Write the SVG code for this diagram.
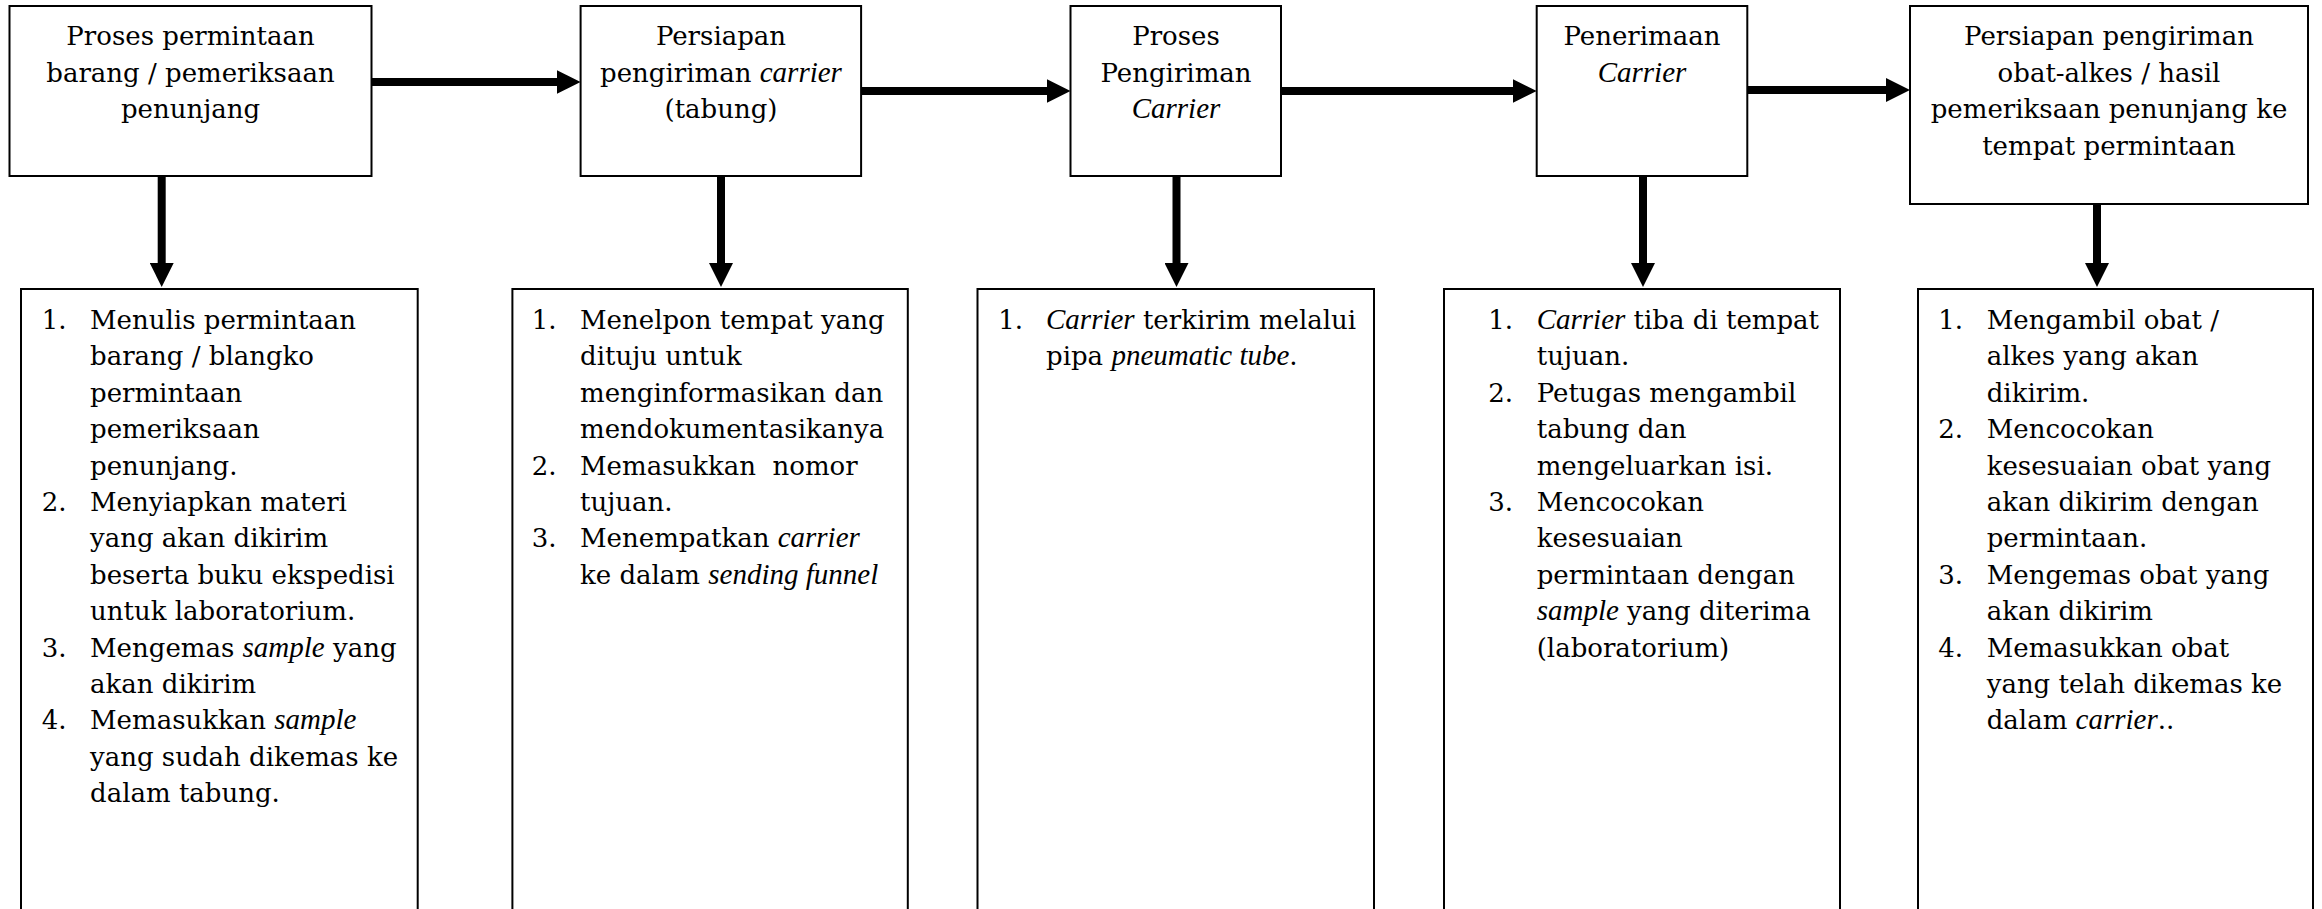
<svg xmlns="http://www.w3.org/2000/svg" width="2322" height="909" viewBox="0 0 2322 909">
<style>
.box{fill:#fff;stroke:#000;stroke-width:2}
.t{font-family:"DejaVu Serif","Liberation Serif",serif;font-size:26px;fill:#000}
.c{text-anchor:middle}
.i{font-family:"Liberation Serif","DejaVu Serif",serif;font-style:italic;font-size:29px}
.con{fill:none;stroke:#000;stroke-width:8;marker-end:url(#ah)}
</style>
<defs>
<marker id="ah" markerUnits="userSpaceOnUse" markerWidth="24" markerHeight="24" viewBox="0 0 24 24" refX="12" refY="12" orient="auto"><path d="M0,0 L24,12 L0,24 Z" fill="#000"/></marker>
</defs>
<rect width="2322" height="909" fill="#fff"/>
<g id="connectors">
<path class="con" d="M371.5,82 H568.6"/>
<path class="con" d="M861,91 H1058.5"/>
<path class="con" d="M1281,91 H1524.7"/>
<path class="con" d="M1747.3,90 H1898"/>
<path class="con" d="M161.7,176 V275"/>
<path class="con" d="M721,176 V275"/>
<path class="con" d="M1176.5,176 V275"/>
<path class="con" d="M1643,176 V275"/>
<path class="con" d="M2097,204 V275"/>
</g>
<g id="n1">
<rect class="box" x="9.5" y="6" width="362" height="170"/>
<text class="t c" x="190.5" y="45">Proses permintaan</text>
<text class="t c" x="190.5" y="81.5">barang / pemeriksaan</text>
<text class="t c" x="190.5" y="118">penunjang</text>
</g>
<g id="n2">
<rect class="box" x="580.6" y="6" width="280.5" height="170"/>
<text class="t c" x="721" y="45">Persiapan</text>
<text class="t c" x="721" y="81.5">pengiriman <tspan class="i">carrier</tspan></text>
<text class="t c" x="721" y="118">(tabung)</text>
</g>
<g id="n3">
<rect class="box" x="1070.5" y="6" width="210.5" height="170"/>
<text class="t c" x="1176" y="45">Proses</text>
<text class="t c" x="1176" y="81.5">Pengiriman</text>
<text class="t c i" x="1176" y="118">Carrier</text>
</g>
<g id="n4">
<rect class="box" x="1536.7" y="6" width="210.6" height="170"/>
<text class="t c" x="1642" y="45">Penerimaan</text>
<text class="t c i" x="1642" y="81.5">Carrier</text>
</g>
<g id="n5">
<rect class="box" x="1910" y="6" width="398" height="198"/>
<text class="t c" x="2109" y="45">Persiapan pengiriman</text>
<text class="t c" x="2109" y="81.5">obat-alkes / hasil</text>
<text class="t c" x="2109" y="118">pemeriksaan penunjang ke</text>
<text class="t c" x="2109" y="154.5">tempat permintaan</text>
</g>
<g id="b1">
<rect class="box" x="21" y="289" width="396.7" height="640"/>
<text class="t" x="41.7" y="329">1.</text>
<text class="t" x="90" y="329">Menulis permintaan</text>
<text class="t" x="90" y="365.4">barang / blangko</text>
<text class="t" x="90" y="401.8">permintaan</text>
<text class="t" x="90" y="438.2">pemeriksaan</text>
<text class="t" x="90" y="474.6">penunjang.</text>
<text class="t" x="41.7" y="511">2.</text>
<text class="t" x="90" y="511">Menyiapkan materi</text>
<text class="t" x="90" y="547.4">yang akan dikirim</text>
<text class="t" x="90" y="583.8">beserta buku ekspedisi</text>
<text class="t" x="90" y="620.2">untuk laboratorium.</text>
<text class="t" x="41.7" y="656.6">3.</text>
<text class="t" x="90" y="656.6">Mengemas <tspan class="i">sample</tspan> yang</text>
<text class="t" x="90" y="693">akan dikirim</text>
<text class="t" x="41.7" y="729.4">4.</text>
<text class="t" x="90" y="729.4">Memasukkan <tspan class="i">sample</tspan></text>
<text class="t" x="90" y="765.8">yang sudah dikemas ke</text>
<text class="t" x="90" y="802.2">dalam tabung.</text>
</g>
<g id="b2">
<rect class="box" x="512.4" y="289" width="395.4" height="640"/>
<text class="t" x="531.7" y="329">1.</text>
<text class="t" x="580" y="329">Menelpon tempat yang</text>
<text class="t" x="580" y="365.4">dituju untuk</text>
<text class="t" x="580" y="401.8">menginformasikan dan</text>
<text class="t" x="580" y="438.2">mendokumentasikanya</text>
<text class="t" x="531.7" y="474.6">2.</text>
<text class="t" x="580" y="474.6" xml:space="preserve">Memasukkan  nomor</text>
<text class="t" x="580" y="511">tujuan.</text>
<text class="t" x="531.7" y="547.4">3.</text>
<text class="t" x="580" y="547.4">Menempatkan <tspan class="i">carrier</tspan></text>
<text class="t" x="580" y="583.8">ke dalam <tspan class="i">sending funnel</tspan></text>
</g>
<g id="b3">
<rect class="box" x="977.5" y="289" width="396.5" height="640"/>
<text class="t" x="998.3" y="329">1.</text>
<text class="t" x="1046" y="329"><tspan class="i">Carrier</tspan> terkirim melalui</text>
<text class="t" x="1046" y="365.4">pipa <tspan class="i">pneumatic tube</tspan>.</text>
</g>
<g id="b4">
<rect class="box" x="1444" y="289" width="396" height="640"/>
<text class="t" x="1488.3" y="329">1.</text>
<text class="t" x="1536.7" y="329"><tspan class="i">Carrier</tspan> tiba di tempat</text>
<text class="t" x="1536.7" y="365.4">tujuan.</text>
<text class="t" x="1488.3" y="401.8">2.</text>
<text class="t" x="1536.7" y="401.8">Petugas mengambil</text>
<text class="t" x="1536.7" y="438.2">tabung dan</text>
<text class="t" x="1536.7" y="474.6">mengeluarkan isi.</text>
<text class="t" x="1488.3" y="511">3.</text>
<text class="t" x="1536.7" y="511">Mencocokan</text>
<text class="t" x="1536.7" y="547.4">kesesuaian</text>
<text class="t" x="1536.7" y="583.8">permintaan dengan</text>
<text class="t" x="1536.7" y="620.2"><tspan class="i">sample</tspan> yang diterima</text>
<text class="t" x="1536.7" y="656.6">(laboratorium)</text>
</g>
<g id="b5">
<rect class="box" x="1918" y="289" width="395" height="640"/>
<text class="t" x="1938.3" y="329">1.</text>
<text class="t" x="1986.7" y="329">Mengambil obat /</text>
<text class="t" x="1986.7" y="365.4">alkes yang akan</text>
<text class="t" x="1986.7" y="401.8">dikirim.</text>
<text class="t" x="1938.3" y="438.2">2.</text>
<text class="t" x="1986.7" y="438.2">Mencocokan</text>
<text class="t" x="1986.7" y="474.6">kesesuaian obat yang</text>
<text class="t" x="1986.7" y="511">akan dikirim dengan</text>
<text class="t" x="1986.7" y="547.4">permintaan.</text>
<text class="t" x="1938.3" y="583.8">3.</text>
<text class="t" x="1986.7" y="583.8">Mengemas obat yang</text>
<text class="t" x="1986.7" y="620.2">akan dikirim</text>
<text class="t" x="1938.3" y="656.6">4.</text>
<text class="t" x="1986.7" y="656.6">Memasukkan obat</text>
<text class="t" x="1986.7" y="693">yang telah dikemas ke</text>
<text class="t" x="1986.7" y="729.4">dalam <tspan class="i">carrier</tspan>..</text>
</g>
</svg>
